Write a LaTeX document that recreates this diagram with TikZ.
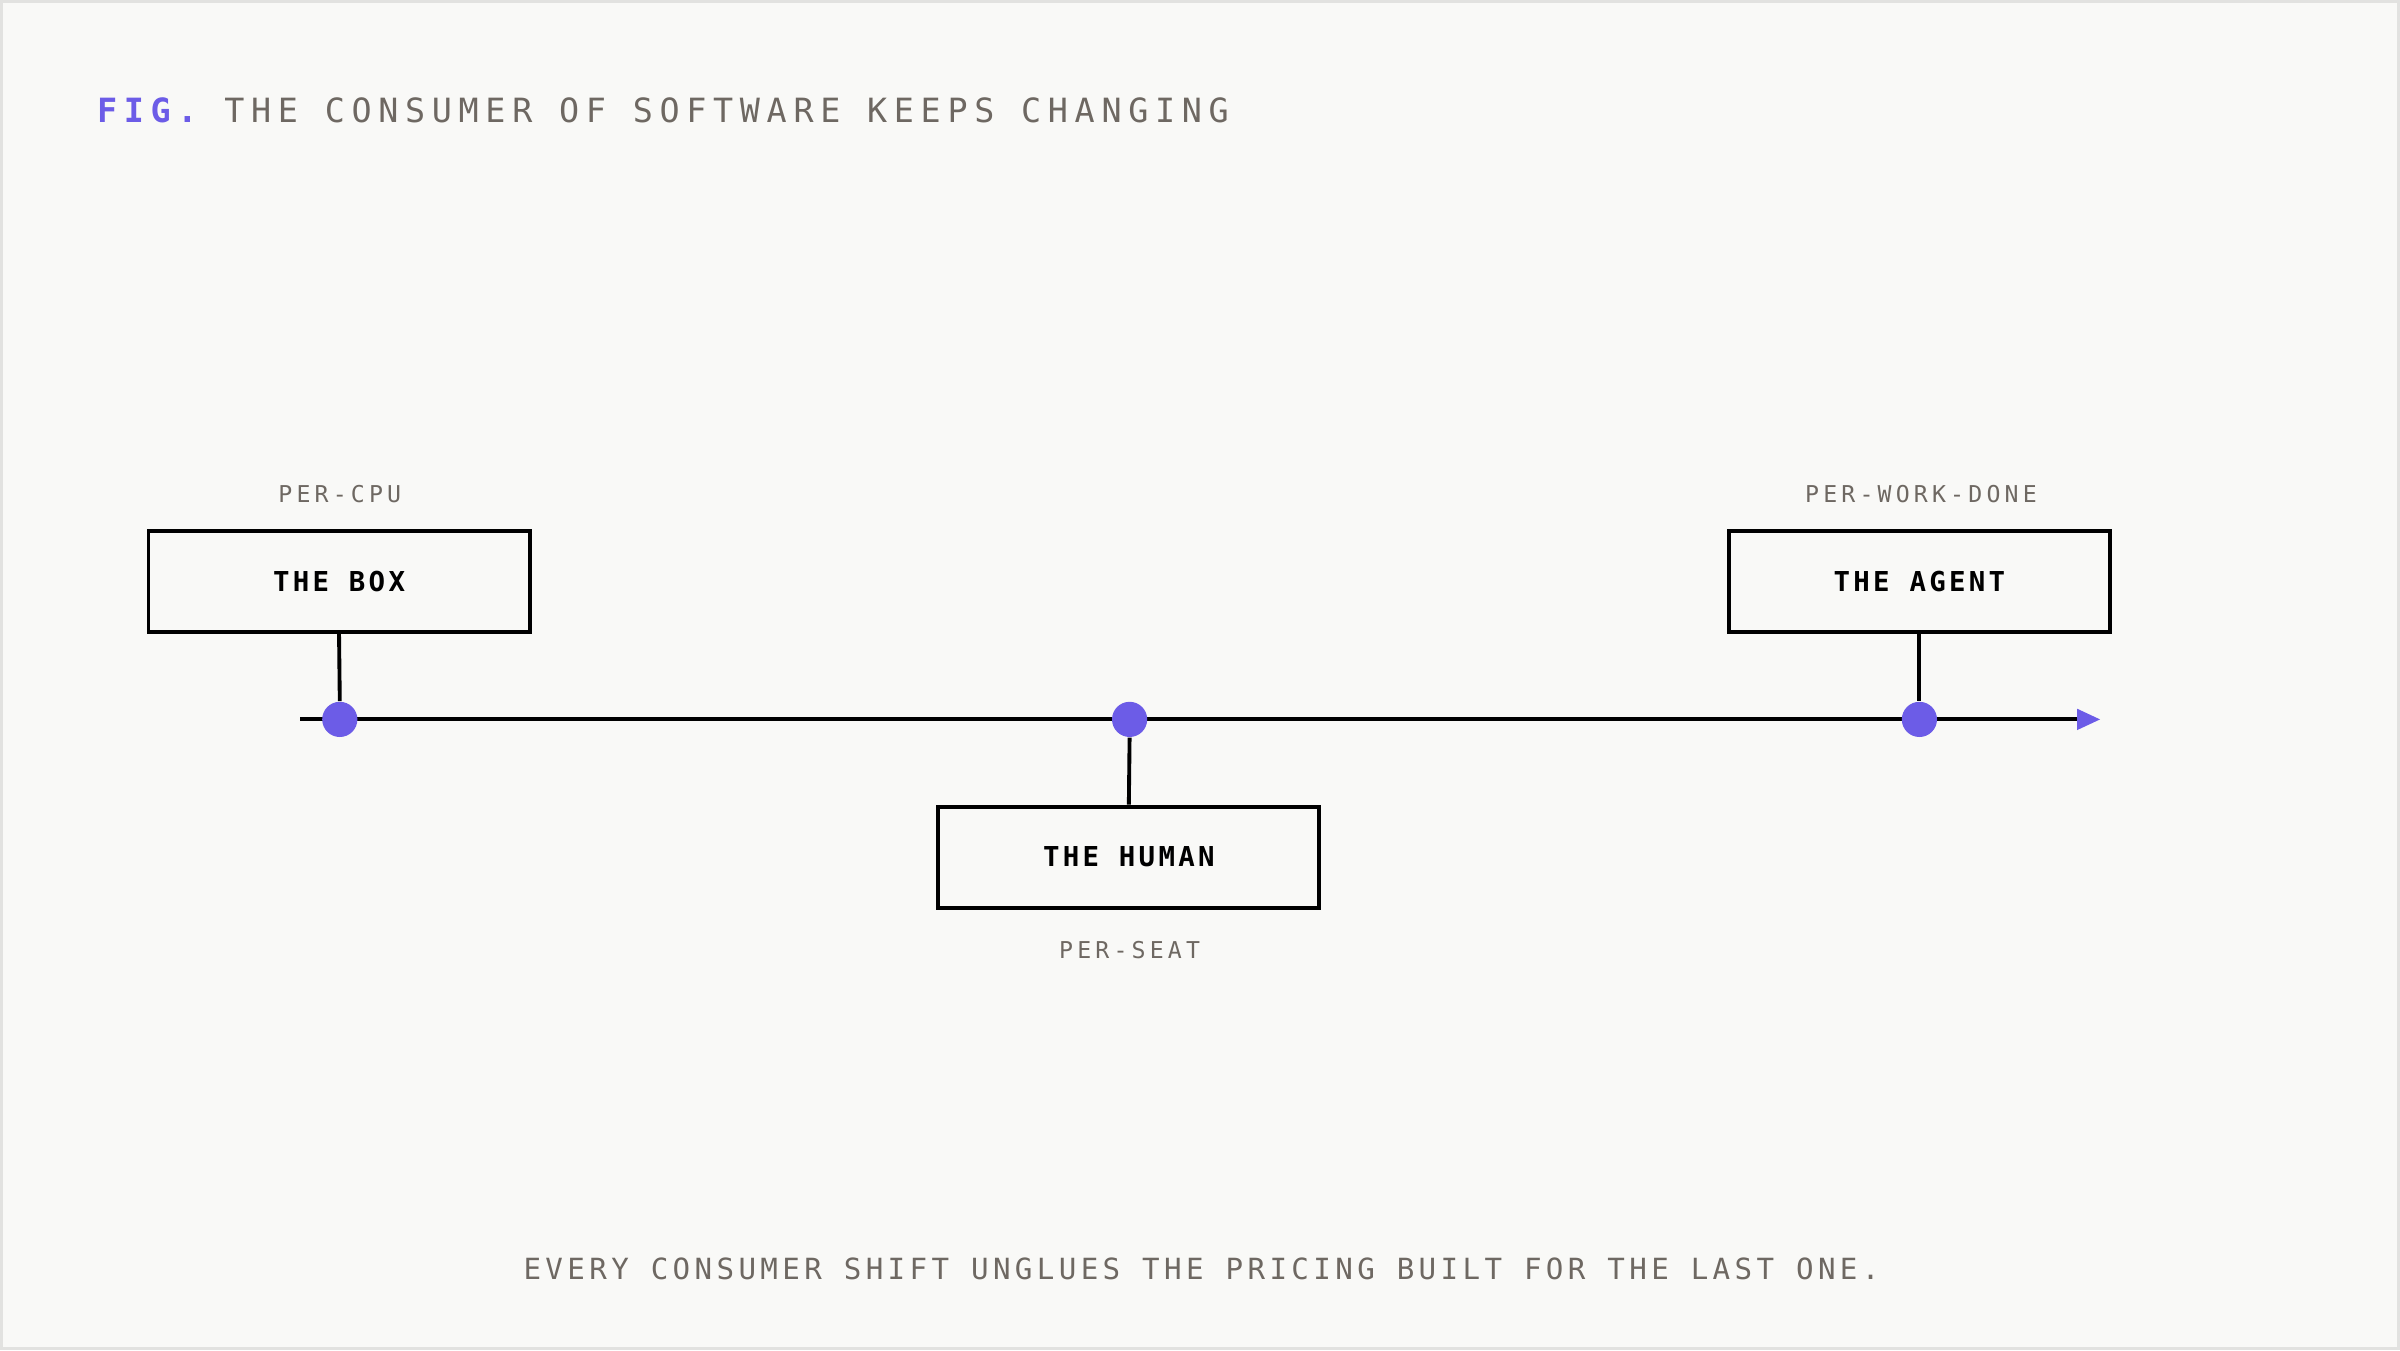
\documentclass[tikz,border=0pt]{standalone}
\usepackage{fontspec}
\setmonofont{DejaVu Sans Mono}
\definecolor{bg}{HTML}{F9F9F7}
\definecolor{frame}{HTML}{E2E2E0}
\definecolor{accent}{HTML}{6C5CE7}
\definecolor{txt}{HTML}{6E6862}
\begin{document}
\begin{tikzpicture}[x=0.015306cm,y=-0.015306cm,
  box/.style={draw=black,line width=1.1pt,fill=bg,minimum width=249*0.015306cm,minimum height=66*0.015306cm,inner sep=0pt,
    font=\ttfamily\bfseries\fontsize{7.8}{9}\selectfont\addfontfeature{LetterSpace=12}},
  lbl/.style={text=txt,inner sep=0pt,font=\ttfamily\fontsize{6.6}{8}\selectfont\addfontfeature{LetterSpace=18}},
  dot/.style={circle,fill=accent,minimum size=23*0.015306cm,inner sep=0pt},
  stem/.style={line width=1.1pt}]
\fill[frame] (0,0) rectangle (1568,882);
\fill[bg] (2,2) rectangle (1566,880);
\useasboundingbox (0,0) rectangle (1568,882);
\node[anchor=west,inner sep=0pt,font=\ttfamily\fontsize{9.5}{11}\selectfont\addfontfeature{LetterSpace=20}] (title) at (63,72)
  {\textcolor{accent}{\bfseries FIG.} \textcolor{txt}{THE CONSUMER OF SOFTWARE KEEPS CHANGING}};
\coordinate (ls) at (196,470);
\coordinate (le) at (1358,470);
\coordinate (tip) at (1372,470);
\draw[line width=1.1pt] (ls) -- (le);
\fill[accent] (tip) -- (1357,463) -- (1357,477) -- cycle;
\node[box] (box) at (221.5,380) {THE BOX};
\node[box] (human) at (737.5,560) {THE HUMAN};
\node[box] (agent) at (1254,380) {THE AGENT};
\node[dot] (d1) at (222,470) {};
\node[dot] (d2) at (738,470) {};
\node[dot] (d3) at (1254,470) {};
\draw[stem] (box.south) -- (d1.north);
\draw[stem] (human.north) -- (d2.south);
\draw[stem] (agent.south) -- (d3.north);
\node[lbl] (l1) at (222,323) {PER-CPU};
\node[lbl] (l2) at (738,621) {PER-SEAT};
\node[lbl] (l3) at (1255,323) {PER-WORK-DONE};
\node[text=txt,inner sep=0pt,font=\ttfamily\fontsize{8.3}{10}\selectfont\addfontfeature{LetterSpace=15}] (cap) at (785,829)
  {EVERY CONSUMER SHIFT UNGLUES THE PRICING BUILT FOR THE LAST ONE.};
\end{tikzpicture}
\end{document}
